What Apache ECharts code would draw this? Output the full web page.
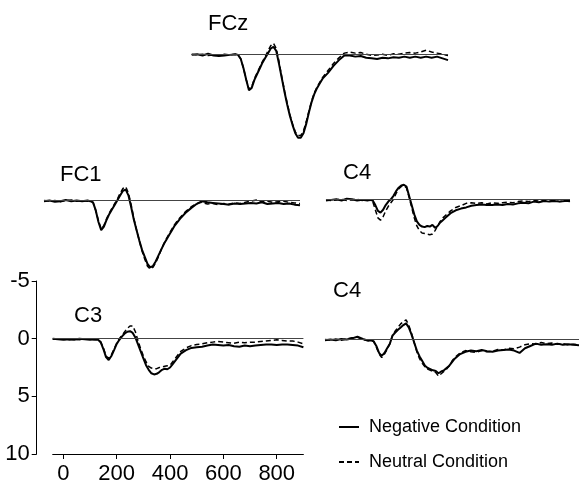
<!DOCTYPE html>
<html><head><meta charset="utf-8">
<script src="https://cdn.jsdelivr.net/npm/echarts@6/dist/echarts.min.js"></script>
<style>html,body{margin:0;padding:0;background:#fff}#c{width:579px;height:485px}</style>
</head><body><div id="c"></div>
<script>
// time points (ms)
const times = [-40,-20,0,20,40,60,80,100,120,
  130,140,150,160,170,180,190,200,210,220,230,240,250,260,270,280,
  290,300,310,320,330,340,350,360,370,380,390,400,410,420,430,440,
  460,480,500,520,540,560,580,600,620,640,660,680,700,720,740,760,780,800,820,840,860,880,900];

const xTicks = [0,200,400,600,800];
const yTicks = [-5,0,5,10];
const legendNames = ['Negative Condition','Neutral Condition'];

// FCz
const fczNeg = [0.05,0.0,0.1,-0.05,0.1,0.15,0.1,0.05,0.0,
  0.05,0.4,1.2,2.2,3.1,2.9,2.2,1.7,1.2,0.7,0.3,-0.1,-0.5,-0.65,-0.3,0.8,
  2.0,3.2,4.3,5.3,6.1,6.8,7.2,7.2,6.8,6.0,5.0,4.1,3.4,2.9,2.5,2.1,
  1.6,1.0,0.5,0.1,0.1,0.2,0.15,0.3,0.35,0.4,0.3,0.35,0.25,0.3,0.2,0.3,0.2,0.3,0.2,0.3,0.2,0.35,0.5];
const fczNeu = [0.0,0.05,0.0,0.1,0.05,0.1,0.0,0.05,0.0,
  0.05,0.4,1.2,2.2,3.0,2.8,2.1,1.6,1.1,0.6,0.2,-0.3,-0.75,-0.95,-0.5,0.6,
  1.9,3.1,4.2,5.2,6.0,6.7,7.0,7.0,6.6,5.8,4.9,4.0,3.3,2.8,2.4,2.0,
  1.4,0.8,0.3,-0.1,-0.2,-0.1,-0.15,0.0,0.1,0.05,0.0,0.1,-0.05,0.0,-0.1,-0.15,-0.1,-0.2,-0.35,-0.2,-0.1,0.0,0.1];
// FC1
const fc1Neg = [0.1,0.05,0.15,0.1,0.0,0.1,0.05,0.1,0.05,
  0.1,0.2,0.9,1.9,2.6,2.3,1.7,1.2,0.8,0.4,0.0,-0.4,-0.8,-0.9,-0.4,0.6,
  1.7,2.6,3.5,4.3,4.9,5.5,5.8,5.7,5.3,4.8,4.3,3.8,3.4,3.0,2.6,2.2,
  1.6,1.1,0.7,0.35,0.1,0.2,0.25,0.3,0.35,0.4,0.3,0.35,0.3,0.25,0.3,0.2,0.35,0.3,0.25,0.35,0.3,0.4,0.45];
const fc1Neu = [0.05,0.1,0.05,0.15,0.05,0.0,0.1,0.05,0.1,
  0.1,0.2,0.9,1.8,2.5,2.2,1.6,1.1,0.7,0.3,-0.1,-0.6,-1.0,-1.15,-0.6,0.4,
  1.6,2.6,3.5,4.4,5.1,5.7,5.95,5.8,5.4,4.9,4.3,3.8,3.3,2.9,2.5,2.1,
  1.5,1.0,0.6,0.3,0.2,0.35,0.3,0.4,0.3,0.35,0.25,0.3,0.2,0.1,0.0,0.15,0.1,0.2,0.15,0.1,0.2,0.25,0.3];
// C4 (upper)
const c4aNeg = [0.1,0.05,0.0,0.1,-0.05,0.0,0.1,0.05,0.1,
  0.05,0.1,0.5,1.0,1.15,0.9,0.5,0.2,0.0,-0.3,-0.7,-1.0,-1.2,-1.25,-1.1,-0.3,
  0.5,1.3,1.9,2.2,2.35,2.4,2.3,2.35,2.2,2.45,2.3,2.0,1.8,1.6,1.4,1.2,
  0.95,0.8,0.7,0.55,0.5,0.45,0.5,0.5,0.45,0.5,0.4,0.45,0.35,0.3,0.35,0.2,0.25,0.15,0.2,0.15,0.2,0.15,0.1];
const c4aNeu = [0.05,0.1,0.05,0.0,0.1,0.05,0.0,0.1,0.05,
  0.1,0.2,0.9,1.6,1.8,1.5,1.0,0.6,0.3,0.0,-0.5,-0.9,-1.1,-1.15,-1.0,-0.2,
  0.7,1.6,2.3,2.7,2.9,2.95,3.0,3.05,3.0,2.7,2.3,1.9,1.6,1.4,1.2,1.0,
  0.7,0.55,0.35,0.3,0.35,0.3,0.4,0.3,0.35,0.3,0.25,0.3,0.2,0.15,0.2,0.1,0.15,0.1,0.05,0.1,0.2,0.15,0.2];
// C3
const c3Neg = [0.0,0.05,0.1,0.05,0.1,0.0,0.05,0.1,0.05,
  0.1,0.3,0.9,1.6,1.85,1.5,1.0,0.45,0.1,-0.2,-0.45,-0.6,-0.65,-0.5,-0.1,0.5,
  1.1,1.7,2.3,2.7,3.0,3.1,3.05,2.9,2.7,2.6,2.65,2.5,2.2,1.9,1.6,1.3,
  1.0,0.8,0.75,0.7,0.6,0.5,0.55,0.6,0.55,0.65,0.7,0.6,0.65,0.6,0.55,0.5,0.5,0.55,0.5,0.5,0.55,0.6,0.75];
const c3Neu = [0.05,0.0,0.05,0.1,0.05,0.1,0.0,0.05,0.1,
  0.1,0.3,0.8,1.5,1.7,1.4,0.9,0.4,0.0,-0.3,-0.6,-0.9,-1.1,-1.1,-0.6,0.2,
  0.9,1.5,2.0,2.4,2.55,2.6,2.6,2.5,2.45,2.4,2.35,2.3,2.0,1.7,1.4,1.1,
  0.8,0.6,0.5,0.45,0.35,0.3,0.25,0.3,0.35,0.4,0.3,0.35,0.3,0.3,0.25,0.2,0.15,0.1,0.15,0.2,0.2,0.3,0.45];
// C4 (lower)
const c4bNeg = [0.1,0.05,0.1,0.0,0.05,-0.05,-0.2,0.0,0.15,
  0.1,0.2,0.6,1.2,1.45,1.2,0.8,0.4,-0.3,-0.55,-0.8,-1.0,-1.2,-1.35,-1.0,-0.4,
  0.3,1.0,1.5,1.9,2.3,2.5,2.6,2.7,2.75,2.95,2.8,2.7,2.5,2.3,2.0,1.7,
  1.3,1.1,1.0,1.05,0.95,1.05,1.1,1.0,0.95,0.9,1.0,1.2,0.8,0.6,0.4,0.5,0.45,0.5,0.4,0.5,0.45,0.5,0.55];
const c4bNeu = [0.05,0.1,0.0,0.1,0.0,-0.1,-0.15,0.05,0.1,
  0.15,0.2,0.7,1.3,1.6,1.3,0.9,0.4,-0.3,-0.7,-1.0,-1.3,-1.5,-1.65,-1.2,-0.5,
  0.3,1.1,1.7,2.1,2.4,2.6,2.7,2.8,2.9,3.2,3.0,2.8,2.6,2.3,1.9,1.6,
  1.2,1.0,1.1,1.15,1.0,1.1,1.05,0.9,0.95,0.8,0.85,0.7,0.5,0.4,0.45,0.3,0.4,0.35,0.45,0.4,0.5,0.45,0.5];

const FONT = '"Liberation Sans", Arial, sans-serif';
const PXU = 11.6;
const panels = [
  {title:'FCz', neg:fczNeg, neu:fczNeu, left:191.7, width:256.3, zero:54.3, tx:208, ty:12.5, axes:false},
  {title:'FC1', neg:fc1Neg, neu:fc1Neu, left:44, width:256, zero:200, tx:60, ty:163.5, axes:false},
  {title:'C4', neg:c4aNeg, neu:c4aNeu, left:326, width:244, zero:199.3, tx:343, ty:161.5, axes:false},
  {title:'C3', neg:c3Neg, neu:c3Neu, left:52.7, width:250.7, zero:339, tx:74, ty:304.5, axes:true},
  {title:'C4', neg:c4bNeg, neu:c4bNeu, left:325, width:256, zero:339, tx:333, ty:280, axes:false}
];

const grid = [], xAxis = [], yAxis = [], series = [], title = [];
panels.forEach((p, i) => {
  const show = p.axes;
  const ymin = show ? -5 : -3, ymax = 10;
  grid.push({left:p.left, width:p.width, top:p.zero + ymin*PXU, height:(ymax-ymin)*PXU, containLabel:false});
  xAxis.push({
    type:'value', gridIndex:i, min:-40, max:900, show:show,
    axisLine:{show:true, onZero:false, lineStyle:{color:'#000', width:1}},
    axisTick:{show:true, customValues:xTicks, length:5, lineStyle:{color:'#000'}},
    axisLabel:{customValues:xTicks, fontSize:22, color:'#000', fontFamily:FONT, margin:9},
    splitLine:{show:false}
  });
  yAxis.push({
    type:'value', gridIndex:i, inverse:true, min:ymin, max:ymax, interval:5, show:show,
    offset:16,
    axisLine:{show:true, onZero:false, lineStyle:{color:'#000', width:1}},
    axisTick:{show:true, length:5, lineStyle:{color:'#000'}},
    axisLabel:{fontSize:22, color:'#000', fontFamily:FONT, margin:7},
    splitLine:{show:false}
  });
  title.push({text:p.title, left:p.tx, top:p.ty, padding:0,
    textStyle:{fontSize:22, fontWeight:'normal', color:'#000', fontFamily:FONT}});
  series.push({
    name:legendNames[1], type:'line', xAxisIndex:i, yAxisIndex:i, symbol:'none',
    data: times.map((t,k)=>[t, p.neu[k]]),
    lineStyle:{color:'#000', width:1.5, type:[5,3]}, itemStyle:{color:'#000'}
  });
  series.push({
    name:legendNames[0], type:'line', xAxisIndex:i, yAxisIndex:i, symbol:'none',
    data: times.map((t,k)=>[t, p.neg[k]]),
    lineStyle:{color:'#000', width:2, type:'solid'}, itemStyle:{color:'#000'},
    markLine:{silent:true, symbol:['none','none'], label:{show:false},
      lineStyle:{color:'#444', width:1.2, type:'solid'}, data:[{yAxis:0}]}
  });
});

const chart = echarts.init(document.getElementById('c'), null, {renderer:'canvas'});
chart.setOption({
  animation:false,
  backgroundColor:'#fff',
  title, grid, xAxis, yAxis, series,
  legend:{
    orient:'vertical', left:338, top:417, padding:0,
    itemWidth:20, itemHeight:14, itemGap:15,
    data:legendNames,
    itemStyle:{color:'rgba(0,0,0,0)', borderWidth:0, opacity:0},
    textStyle:{fontSize:18, color:'#000', fontFamily:FONT, lineHeight:20, padding:[0,0,0,5]}
  }
});
</script></body></html>
